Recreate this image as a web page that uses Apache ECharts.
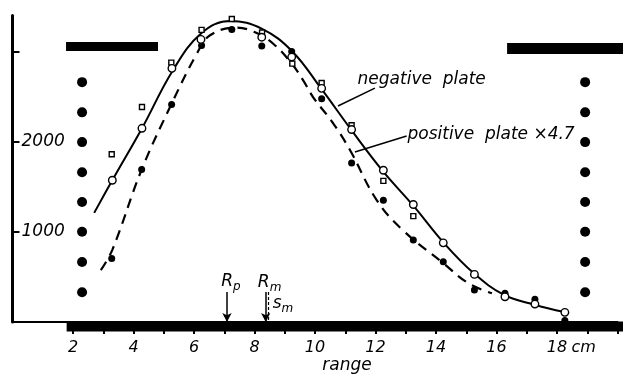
<!DOCTYPE html>
<html><head><meta charset="utf-8">
<script src="https://cdn.jsdelivr.net/npm/echarts@6/dist/echarts.min.js"></script>
<style>html,body{margin:0;padding:0;background:#fff}#c{width:624px;height:377px}</style>
</head><body><div id="c"></div>
<script>
// ---- data ----
const xTicks = [2,3,4,5,6,7,8,9,10,11,12,13,14,15,16,17,18,19,20];
const xLabels = [2,4,6,8,10,12,14,16,18];
const yTicks = [1000,2000,3000];
const yLabels = [1000,2000];
// negative plate (solid curve) and its measured points (open circles)
const negCurve = [[2.7,1210],[3.3,1572],[4.3,2160],[5.3,2790],[6.25,3205],[7.2,3338],[8.25,3250],[9.25,3000],[10.2,2590],[11.2,2130],[12.25,1670],[13.25,1290],[14.25,880],[15.25,540],[16.25,300],[17.25,192],[18.25,110]];
const negPoints = [[3.3,1572],[4.28,2148],[5.27,2813],[6.23,3134],[7.25,3410],[8.24,3158],[9.23,2938],[10.22,2591],[11.21,2134],[12.26,1683],[13.25,1303],[14.24,878],[15.27,528],[16.28,280],[17.27,199],[18.26,107]];
// positive plate x4.7 (dashed curve) and its points (filled dots)
const posCurve = [[2.92,576],[3.3,800],[4.27,1690],[5.26,2420],[6.1,2980],[6.53,3180],[7.4,3265],[8.0,3215],[8.62,3086],[9.23,2865],[9.61,2680],[9.94,2492],[10.6,2204],[11.16,1905],[12.04,1351],[12.9,1019],[14.24,653],[15.06,432],[15.85,318]];
const posPoints = [[3.28,705],[4.27,1691],[5.26,2411],[6.25,3066],[7.25,3245],[8.24,3060],[9.23,3000],[10.22,2477],[11.21,1764],[12.26,1351],[13.25,908],[14.24,668],[15.27,354],[16.28,318],[17.27,251],[18.26,16]];
// third set of points (small squares)
const squarePoints = [[3.28,1860],[4.28,2384],[5.25,2876],[6.25,3240],[7.25,3360],[8.25,3211],[9.25,2865],[10.22,2650],[11.21,2182],[12.26,1565],[13.25,1174]];
// sprocket-hole dots of the film strip
const sprocketY = [2660,2325,1995,1660,1330,1000,665,330];
const sprocketX = [2.3, 18.93];
// film-strip bars
const barBottom = [[1.79,-50],[20.4,-50]];
const barTopLeft = [[1.77,3054],[4.81,3054]];
const barTopRight = [[16.35,3032],[20.4,3032]];
// markers on the range axis
const Rp = 7.09, Rm = 8.37, Sm = 8.46, markerTop = 333;
// annotation texts
const negLabel = 'negative  plate';
const posLabel = 'positive  plate \u00d74.7';
const negLeader = [[11.98,2594],[10.76,2395]];
const posLeader = [[13.03,2062],[11.32,1885]];

const FONT = 'DejaVu Sans';
const txt = (size) => ({fontFamily: FONT, fontStyle: 'italic', fontSize: size, color: '#000'});
const sprocket = [];
sprocketX.forEach(x => sprocketY.forEach(y => sprocket.push([x,y])));

const annotations = [
  {value:[11.39,2683], label:{show:true, position:'right', distance:0, formatter:negLabel, ...txt(17)}},
  {value:[13.04,2073], label:{show:true, position:'right', distance:0, formatter:posLabel, ...txt(17)}},
  {value:[11.06,-488], label:{show:true, position:'inside', formatter:'range', ...txt(17)}},
  {value:[18.88,-288], label:{show:true, position:'inside', formatter:'cm', ...txt(16)}},
  {value:[7.22,443], label:{show:true, position:'inside', formatter:'{r|R}{s|p}'}},
  {value:[8.5,432], label:{show:true, position:'inside', formatter:'{r|R}{s|m}'}},
  {value:[8.94,200], label:{show:true, position:'inside', formatter:'{r|s}{s|m}'}}
];
const rich = {
  r: {fontFamily: FONT, fontStyle:'italic', fontSize:17, color:'#000'},
  s: {fontFamily: FONT, fontStyle:'italic', fontSize:12, color:'#000', padding:[9,0,0,0]}
};

const line = (data, width, extra) => Object.assign({type:'line', data, symbol:'none', clip:false, silent:true,
  lineStyle:{color:'#000', width}}, extra||{});

const option = {
  animation: false,
  backgroundColor: '#fff',
  grid: {left: 12.5, right: 6.5, top: 15.4, bottom: 55},
  xAxis: {type:'value', min:0, max:20,
    splitLine:{show:false},
    axisLine:{show:true, onZero:false, lineStyle:{color:'#000', width:2}},
    axisTick:{show:true, customValues:xTicks, length:12, lineStyle:{color:'#000', width:2}},
    axisLabel:{customValues:xLabels, margin:18, formatter:(v)=>String(v), ...txt(16)}
  },
  yAxis: {type:'value', min:0, max:3400,
    splitLine:{show:false},
    axisLine:{show:true, lineStyle:{color:'#000', width:3}},
    axisTick:{show:true, inside:true, length:7, customValues:yTicks, lineStyle:{color:'#000', width:2}},
    axisLabel:{inside:true, margin:9, customValues:yLabels, formatter:(v)=>String(v), ...txt(17)}
  },
  series: [
    line(barBottom, 10),
    line(barTopLeft, 9),
    line(barTopRight, 11),
    line(negCurve, 2, {smooth:0.4, z:3}),
    line(posCurve, 2.2, {smooth:0.4, z:3, lineStyle:{color:'#000', width:2.2, type:[10,7]}}),
    line(negLeader, 1.5),
    line(posLeader, 1.5),
    {type:'scatter', data:sprocket, symbol:'circle', symbolSize:10, itemStyle:{color:'#000', opacity:1}, silent:true, z:4},
    {type:'scatter', data:squarePoints, symbol:'rect', symbolSize:5, itemStyle:{color:'#fff', borderColor:'#000', borderWidth:1.4, opacity:1}, silent:true, z:4},
    {type:'scatter', data:posPoints, symbol:'circle', symbolSize:7, itemStyle:{color:'#000', opacity:1}, silent:true, z:5, clip:false},
    {type:'scatter', data:negPoints, symbol:'circle', symbolSize:7.5, itemStyle:{color:'#fff', borderColor:'#000', borderWidth:1.4, opacity:1}, silent:true, z:6},
    {type:'scatter', data:annotations, symbolSize:1, itemStyle:{color:'rgba(0,0,0,0)', opacity:1}, silent:true, clip:false, z:7,
      label:{rich},
      markLine:{silent:true, symbol:['none','arrow'], symbolSize:[7,9], label:{show:false},
        lineStyle:{color:'#000', width:1.5, type:'solid'},
        data:[
          [{coord:[Rp,markerTop]},{coord:[Rp,0]}],
          [{coord:[Rm,markerTop]},{coord:[Rm,0]}],
          [{coord:[Sm,markerTop], symbol:'none', lineStyle:{type:[3,2], width:1.2}},{coord:[Sm,0], symbol:'none'}]
        ]}
    }
  ]
};
const chart = echarts.init(document.getElementById('c'), null, {renderer:'canvas'});
chart.setOption(option);
</script></body></html>
